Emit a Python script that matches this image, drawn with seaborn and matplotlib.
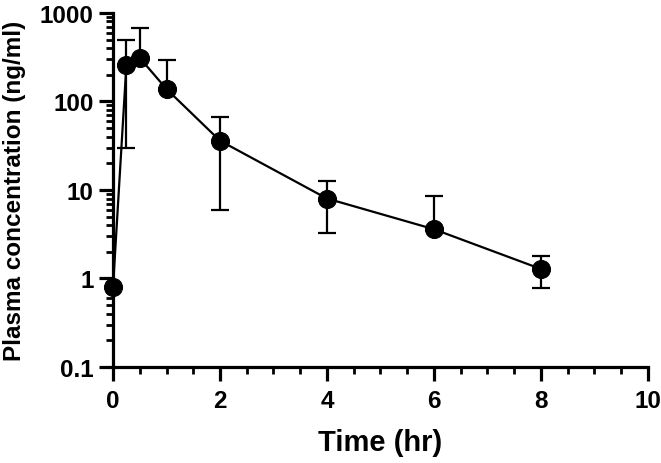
import matplotlib
matplotlib.use("Agg")
import matplotlib.pyplot as plt
from matplotlib.ticker import LogLocator, MultipleLocator, FixedLocator, NullFormatter
import seaborn as sns
import numpy as np
import pandas as pd

# plasma concentration time course (mean +/- SD)
time_hr = [0, 0.25, 0.5, 1, 2, 4, 6, 8]
conc_mean = [0.8, 260, 310, 138, 36, 8.0, 3.6, 1.28]
conc_sd = [0, 230, 370, 155, 30, 4.7, 5.0, 0.5]

y_ticks = [0.1, 1, 10, 100, 1000]
y_tick_labels = ["0.1", "1", "10", "100", "1000"]
x_ticks = [0, 2, 4, 6, 8, 10]

sns.set_style("ticks")
plt.rcParams['font.family'] = ['Liberation Sans', 'DejaVu Sans']
plt.rcParams['font.weight'] = 'bold'
plt.rcParams['text.color'] = 'black'
plt.rcParams['axes.labelcolor'] = 'black'

df = pd.DataFrame({"time": time_hr, "conc": conc_mean, "sd": conc_sd})
mean = df["conc"].to_numpy()
sd = df["sd"].to_numpy()
# lower bars that would go below zero are not drawn on a log axis
lower = np.where(mean - sd > 0, sd, 0)

fig = plt.figure(figsize=(6.61, 4.64), dpi=100)
ax = fig.add_axes([0.171, 0.207, 0.809, 0.763])

ax.errorbar(df["time"], mean, yerr=[lower, sd], fmt="none", ecolor="black",
            elinewidth=1.6, capsize=6.5, capthick=1.6, zorder=2)
sns.lineplot(data=df, x="time", y="conc", ax=ax, color="black", linewidth=1.6,
             marker="o", markersize=13, markeredgecolor="black",
             markerfacecolor="black", zorder=3, clip_on=False)

ax.set_yscale("log")
ax.set_ylim(0.1, 1000)
ax.set_xlim(0, 10)
ax.yaxis.set_major_locator(FixedLocator(y_ticks))
ax.set_yticklabels(y_tick_labels)
ax.yaxis.set_minor_locator(LogLocator(base=10, subs=np.arange(2, 10)))
ax.yaxis.set_minor_formatter(NullFormatter())
ax.set_xticks(x_ticks)
ax.xaxis.set_minor_locator(MultipleLocator(0.5))

for s in ["top", "right"]:
    ax.spines[s].set_visible(False)
for s in ["left", "bottom"]:
    ax.spines[s].set_linewidth(2.3)
    ax.spines[s].set_color("black")

ax.tick_params(which="major", length=10, width=2.3, labelsize=17.5,
               colors="black", labelcolor="black")
ax.tick_params(axis="x", which="major", pad=6)
ax.tick_params(axis="y", which="major", pad=4)
ax.tick_params(which="minor", length=5, width=2.0, colors="black")
for lbl in ax.get_xticklabels() + ax.get_yticklabels():
    lbl.set_fontweight("bold")
    lbl.set_color("black")

ax.set_xlabel("Time (hr)", fontsize=21, fontweight="bold", color="black")
ax.set_ylabel("Plasma concentration (ng/ml)", fontsize=17.5, fontweight="bold",
              color="black")
ax.xaxis.set_label_coords(0.5, -0.172)
ax.yaxis.set_label_coords(-0.163, 0.5)

fig.savefig("out.png", dpi=100)
